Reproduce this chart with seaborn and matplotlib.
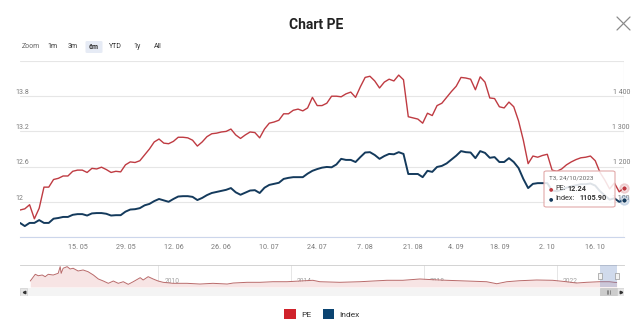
import numpy as np
import pandas as pd
import matplotlib
matplotlib.use("Agg")
import matplotlib.pyplot as plt
from matplotlib.patches import FancyBboxPatch, Rectangle, Patch
from matplotlib.lines import Line2D
import seaborn as sns

# ---------------------------------------------------------------- data
# HOSE trading sessions shown in the main panel
session_start = "2023-04-24"
session_end = "2023-10-24"
market_holidays = ["2023-05-01", "2023-05-02", "2023-05-03", "2023-09-01", "2023-09-04"]

pe_values = [
    11.86, 11.88, 11.95, 11.71, 11.89, 12.25, 12.25, 12.38, 12.40, 12.44,
    12.44, 12.52, 12.54, 12.54, 12.50, 12.57, 12.56, 12.59, 12.55, 12.50,
    12.52, 12.51, 12.63, 12.68, 12.67, 12.70, 12.80, 12.90, 13.02, 13.07,
    13.00, 12.99, 13.03, 13.10, 13.10, 13.09, 13.05, 12.95, 13.02, 13.11,
    13.16, 13.17, 13.19, 13.20, 13.24, 13.14, 13.08, 13.14, 13.19, 13.18,
    13.09, 13.24, 13.34, 13.36, 13.39, 13.50, 13.50, 13.56, 13.58, 13.55,
    13.60, 13.78, 13.64, 13.64, 13.68, 13.80, 13.80, 13.79, 13.84, 13.87,
    13.78, 13.96, 14.12, 14.14, 14.06, 13.94, 14.04, 14.09, 14.06, 14.16,
    14.08, 13.45, 13.43, 13.41, 13.34, 13.51, 13.47, 13.64, 13.68, 13.78,
    13.88, 13.97, 14.12, 14.11, 14.09, 13.91, 14.13, 14.04, 13.77, 13.76,
    13.62, 13.60, 13.70, 13.62, 13.38, 13.05, 12.65, 12.78, 12.76, 12.79,
    12.81, 12.54, 12.52, 12.56, 12.63, 12.68, 12.72, 12.75, 12.76, 12.78,
    12.70, 12.50, 12.37, 12.22, 12.32, 12.17, 12.24,
]

index_values = [
    1040, 1031, 1040, 1040, 1048, 1040, 1040, 1052, 1054, 1057,
    1057, 1063, 1065, 1065, 1061, 1067, 1068, 1068, 1066, 1061,
    1062, 1062, 1072, 1078, 1079, 1082, 1090, 1094, 1102, 1108,
    1104, 1100, 1108, 1115, 1116, 1116, 1114, 1105, 1111, 1119,
    1125, 1128, 1131, 1134, 1139, 1127, 1120, 1126, 1132, 1133,
    1125, 1140, 1148, 1151, 1154, 1165, 1168, 1170, 1170, 1170,
    1180, 1188, 1193, 1197, 1199, 1198, 1206, 1222, 1219, 1219,
    1213, 1227, 1240, 1241, 1233, 1222, 1230, 1236, 1235, 1241,
    1236, 1179, 1179, 1179, 1170, 1188, 1185, 1199, 1202, 1209,
    1220, 1231, 1244, 1241, 1240, 1224, 1244, 1239, 1225, 1227,
    1213, 1213, 1224, 1213, 1196, 1165, 1139, 1151, 1153, 1153,
    1153, 1132, 1130, 1134, 1140, 1144, 1147, 1150, 1150, 1152,
    1146, 1130, 1118, 1106, 1110, 1100, 1105.90,
]

tick_dates = ["2023-05-15", "2023-05-29", "2023-06-12", "2023-06-26", "2023-07-10",
              "2023-07-24", "2023-08-07", "2023-08-21", "2023-09-04", "2023-09-18",
              "2023-10-02", "2023-10-16"]
tick_labels = ["15. 05", "29. 05", "12. 06", "26. 06", "10. 07", "24. 07",
               "7. 08", "21. 08", "4. 09", "18. 09", "2. 10", "16. 10"]

pe_ticks = [11.4, 12.0, 12.6, 13.2, 13.8, 14.4]
pe_tick_labels = ["", "12", "12.6", "13.2", "13.8", ""]
index_ticks = [1000, 1100, 1200, 1300, 1400, 1500]
index_tick_labels = ["", "1 100", "1 200", "1 300", "1 400", ""]

# long-run PE history for the navigator strip
nav_years = [
    2006.15, 2006.30, 2006.39, 2006.51, 2006.60, 2006.69, 2006.84, 2006.99, 2007.05, 2007.08,
    2007.14, 2007.26, 2007.35, 2007.44, 2007.59, 2007.74, 2007.89, 2008.05, 2008.20, 2008.35,
    2008.50, 2008.65, 2008.80, 2008.95, 2009.10, 2009.25, 2009.46, 2009.55, 2009.70, 2009.85,
    2010.00, 2010.15, 2010.45, 2010.87, 2011.26, 2011.65, 2012.08, 2012.26, 2012.68, 2013.07,
    2013.46, 2013.88, 2014.27, 2014.66, 2014.87, 2015.47, 2016.08, 2016.47, 2016.89, 2017.37,
    2017.88, 2018.27, 2018.69, 2019.29, 2019.89, 2020.20, 2020.50, 2020.89, 2021.40, 2021.88,
    2022.30, 2022.60, 2022.90, 2023.29, 2023.59, 2023.74, 2023.81,
]
nav_pe = [
    14.7, 26.0, 23.6, 24.8, 22.0, 26.0, 24.8, 27.7, 38.9, 27.7,
    36.2, 38.9, 35.0, 36.2, 31.6, 33.3, 30.4, 24.8, 18.1, 14.7,
    10.8, 14.7, 10.8, 13.5, 9.1, 13.5, 20.3, 16.4, 22.0, 18.1,
    14.7, 12.5, 10.8, 10.8, 9.6, 10.8, 9.6, 11.3, 12.5, 12.5,
    13.5, 13.5, 14.7, 15.9, 13.5, 12.5, 13.5, 14.7, 15.9, 15.9,
    18.1, 16.9, 15.9, 14.7, 13.5, 10.1, 13.5, 15.2, 16.4, 15.9,
    13.5, 11.3, 12.5, 13.5, 13.5, 12.5, 12.24,
]
nav_year_ticks = [2010, 2014, 2018, 2022]

range_buttons = ["1m", "3m", "6m", "YTD", "1y", "All"]
selected_button = "6m"
series_names = ["PE", "Index"]

# ---------------------------------------------------------------- styling
sns.set_style("white")
plt.rcParams["font.family"] = ["Roboto", "DejaVu Sans"]

PE_LINE = "#bf3b42"
IDX_LINE = "#143a5c"
PE_SWATCH = "#d0222b"
IDX_SWATCH = "#0b4471"
GRID = "#e6e6e6"
LABEL = "#7a7a7a"

W, H = 640, 327
fig = plt.figure(figsize=(W / 100, H / 100), dpi=100)
fig.patch.set_facecolor("white")


def fx(px):
    return px / W


def fy(py):
    return 1 - py / H


# ---------------------------------------------------------------- frame
dates = pd.bdate_range(session_start, session_end)
dates = dates[~dates.isin(pd.to_datetime(market_holidays))]
pos = np.arange(len(dates))
df = pd.DataFrame({"pos": pos, "date": dates, "PE": pe_values, "Index": index_values})

# ---------------------------------------------------------------- main panel
ax = fig.add_axes([fx(20), fy(237), fx(604), 176 / H])
ax.set_facecolor("none")
sns.lineplot(data=df, x="pos", y="PE", ax=ax, color=PE_LINE, linewidth=1.0, legend=False)
ax.set_xlim(pos[0], pos[-1])
ax.set_ylim(pe_ticks[0], pe_ticks[-1])
ax.set_yticks(pe_ticks)
ax.set_yticklabels([])
ax.tick_params(axis="y", length=0)
ax.grid(axis="y", color=GRID, linewidth=0.8)
ax.grid(axis="x", visible=False)
for s in ["left", "right", "top"]:
    ax.spines[s].set_visible(False)
ax.spines["bottom"].set_color("#ccd6eb")
ax.spines["bottom"].set_linewidth(0.8)
ax.set_xlabel("")
ax.set_ylabel("")

tick_pos = [int(dates.searchsorted(pd.Timestamp(d))) for d in tick_dates]
ax.set_xticks(tick_pos)
ax.set_xticklabels(tick_labels, fontsize=5.2, color=LABEL)
ax.tick_params(axis="x", length=0, pad=5)

for v, lab in zip(pe_ticks, pe_tick_labels):
    if lab:
        ax.annotate(lab, xy=(0, v), xycoords=("axes fraction", "data"),
                    xytext=(-3, 2.6), textcoords="offset points",
                    ha="left", va="center", fontsize=5.0, color=LABEL)

ax2 = ax.twinx()
sns.lineplot(data=df, x="pos", y="Index", ax=ax2, color=IDX_LINE, linewidth=1.4, legend=False)
ax2.set_ylim(index_ticks[0], index_ticks[-1])
ax2.set_yticks(index_ticks)
ax2.set_yticklabels([])
ax2.tick_params(axis="y", length=0)
ax2.grid(False)
for s in ax2.spines.values():
    s.set_visible(False)
ax2.set_ylabel("")
for v, lab in zip(index_ticks, index_tick_labels):
    if lab:
        ax2.annotate(lab, xy=(1, v), xycoords=("axes fraction", "data"),
                     xytext=(4.3, 2.6), textcoords="offset points",
                     ha="right", va="center", fontsize=5.0, color=LABEL, zorder=2)

# crosshair and hover markers on the last session
last = df.iloc[-1]
ax.axvline(last["pos"], color="#cccccc", linewidth=0.8, zorder=1)
ax.scatter([last["pos"]], [last["PE"]], s=55, color=PE_LINE, alpha=0.25,
           linewidths=0, clip_on=False, zorder=6)
ax.scatter([last["pos"]], [last["PE"]], s=14, color=PE_LINE, edgecolors="white",
           linewidths=0.6, clip_on=False, zorder=7)
ax2.scatter([last["pos"]], [last["Index"]], s=55, color="#4f7fb5", alpha=0.3,
            linewidths=0, clip_on=False, zorder=6)
ax2.scatter([last["pos"]], [last["Index"]], s=14, color=IDX_LINE, edgecolors="white",
            linewidths=0.6, clip_on=False, zorder=7)

# ---------------------------------------------------------------- tooltip
tip = FancyBboxPatch((fx(544), fy(207)), fx(71), 36 / H,
                     boxstyle="round,pad=0,rounding_size=0.004",
                     transform=fig.transFigure, facecolor=(1, 1, 1, 0.86),
                     edgecolor="#e2a9a9", linewidth=0.8, zorder=10)
fig.patches.append(tip)
day_names = ["T2", "T3", "T4", "T5", "T6", "T7", "CN"]
d_last = last["date"]
fig.text(fx(549), fy(178.5), f"{day_names[d_last.dayofweek]}, {d_last:%d/%m/%Y}",
         fontsize=4.6, color="#666666", va="center", ha="left", zorder=11)
fig.text(fx(551), fy(189), "\u25cf", fontsize=3.6, color=PE_LINE, va="center",
         ha="center", zorder=11)
fig.text(fx(555.5), fy(189), "PE:", fontsize=5.2, color="#333333", va="center", zorder=11)
fig.text(fx(567.5), fy(189), f"{last['PE']:.2f}", fontsize=5.2, color="#333333",
         fontweight="bold", va="center", zorder=11)
fig.text(fx(551), fy(198.5), "\u25cf", fontsize=3.6, color=IDX_LINE, va="center",
         ha="center", zorder=11)
fig.text(fx(555.5), fy(198.5), "Index:", fontsize=5.2, color="#333333", va="center", zorder=11)
fig.text(fx(579), fy(198.5), f"{last['Index']:.2f}", fontsize=5.2, color="#333333",
         fontweight="bold", va="center", zorder=11)

# ---------------------------------------------------------------- navigator
nav = fig.add_axes([fx(20), fy(287), fx(604), 22 / H])
nav_df = pd.DataFrame({"year": nav_years, "pe": nav_pe})
nav.set_xlim(2005.84, 2024.03)
nav.set_ylim(4.6, 41.7)
for yv in nav_year_ticks:
    nav.axvline(yv, color=GRID, linewidth=0.7, zorder=0)
    nav.annotate(str(yv), xy=(yv, 0.27), xycoords=("data", "axes fraction"),
                 xytext=(4.5, 0), textcoords="offset points",
                 ha="left", va="center", fontsize=4.8, color="#a0a0a0", zorder=1)
nav.fill_between(nav_df["year"], nav_df["pe"], 4.6, color="#f7e4e4", linewidth=0, zorder=1)
sns.lineplot(data=nav_df, x="year", y="pe", ax=nav, color="#b96a6a", linewidth=0.7,
             legend=False, zorder=2)
sel_start = dates[0].year + (dates[0].dayofyear - 1) / 365
sel_end = dates[-1].year + (dates[-1].dayofyear - 1) / 365
nav.axvspan(sel_start, sel_end, color=(102 / 255, 133 / 255, 194 / 255, 0.3),
            linewidth=0, zorder=3)
handle = [(-0.5, -1), (0.5, -1), (0.5, 1), (-0.5, 1), (-0.5, -1)]
for xv in (sel_start, sel_end):
    nav.plot([xv], [0.5], transform=nav.get_xaxis_transform(), marker=handle,
             markersize=5, markerfacecolor="#f2f2f2", markeredgecolor="#999999",
             markeredgewidth=0.5, clip_on=False, zorder=5)
nav.set_xticks([])
nav.set_yticks([])
nav.set_xlabel("")
nav.set_ylabel("")
for s in ["left", "right", "bottom"]:
    nav.spines[s].set_visible(False)
nav.spines["top"].set_color("#cccccc")
nav.spines["top"].set_linewidth(0.6)

# ---------------------------------------------------------------- scrollbar
sb = fig.add_axes([fx(20), fy(296), fx(604), 8 / H])
sb.set_xlim(nav.get_xlim())
sb.set_ylim(0, 1)
sb.set_facecolor("#f4f4f4")
for s in sb.spines.values():
    s.set_visible(False)
sb.set_xticks([])
sb.set_yticks([])
px_year = (nav.get_xlim()[1] - nav.get_xlim()[0]) / 604
sb.add_patch(Rectangle((sel_start, 0.05), sel_end - sel_start, 0.9,
                       facecolor="#cccccc", edgecolor="#c0c0c0", linewidth=0.4))
mid = (sel_start + sel_end) / 2
for k in (-1, 0, 1):
    sb.plot([mid + k * 1.3 * px_year] * 2, [0.3, 0.7], color="#555555", linewidth=0.4)
lo, hi = nav.get_xlim()
sb.add_patch(Rectangle((lo, 0.05), 7 * px_year, 0.9, facecolor="#e6e6e6",
                       edgecolor="#cccccc", linewidth=0.4))
sb.add_patch(Rectangle((hi - 7 * px_year, 0.05), 7 * px_year, 0.9, facecolor="#e6e6e6",
                       edgecolor="#cccccc", linewidth=0.4))
sb.plot([lo + 3.5 * px_year], [0.5], marker="<", markersize=1.8, color="#333333")
sb.plot([hi - 3.5 * px_year], [0.5], marker=">", markersize=1.8, color="#333333")

# ---------------------------------------------------------------- header
fig.text(fx(316), fy(25), "Chart PE", fontsize=10, fontweight="bold",
         color="#222222", ha="center", va="center")
for (x0, y0, x1, y1) in [(617, 17, 630, 30), (617, 30, 630, 17)]:
    fig.add_artist(Line2D([fx(x0), fx(x1)], [fy(y0), fy(y1)], color="#8a8a8a",
                          linewidth=0.9, transform=fig.transFigure))

fig.text(fx(31), fy(47), "Zoom", fontsize=5.0, color="#666666", ha="center", va="center")
button_x = [52.5, 73, 94, 115, 137, 158]
for bx, name in zip(button_x, range_buttons):
    if name == selected_button:
        fig.patches.append(FancyBboxPatch((fx(bx - 8.5), fy(53)), fx(17), 12 / H,
                                          boxstyle="round,pad=0,rounding_size=0.003",
                                          transform=fig.transFigure,
                                          facecolor="#e6ebf5", edgecolor="none"))
    fig.text(fx(bx), fy(47), name, fontsize=5.0, color="#333333", ha="center", va="center",
             fontweight="bold" if name == selected_button else "normal")

# ---------------------------------------------------------------- legend
handles = [Patch(facecolor=PE_SWATCH, edgecolor="none"),
           Patch(facecolor=IDX_SWATCH, edgecolor="none")]
fig.legend(handles, series_names, loc="center", bbox_to_anchor=(fx(322), fy(314)),
           ncol=2, frameon=False, fontsize=6, handlelength=1.4, handleheight=1.4,
           handletextpad=0.6, columnspacing=1.4, labelcolor="#333333")

fig.savefig("out.png", dpi=100, facecolor="white")
